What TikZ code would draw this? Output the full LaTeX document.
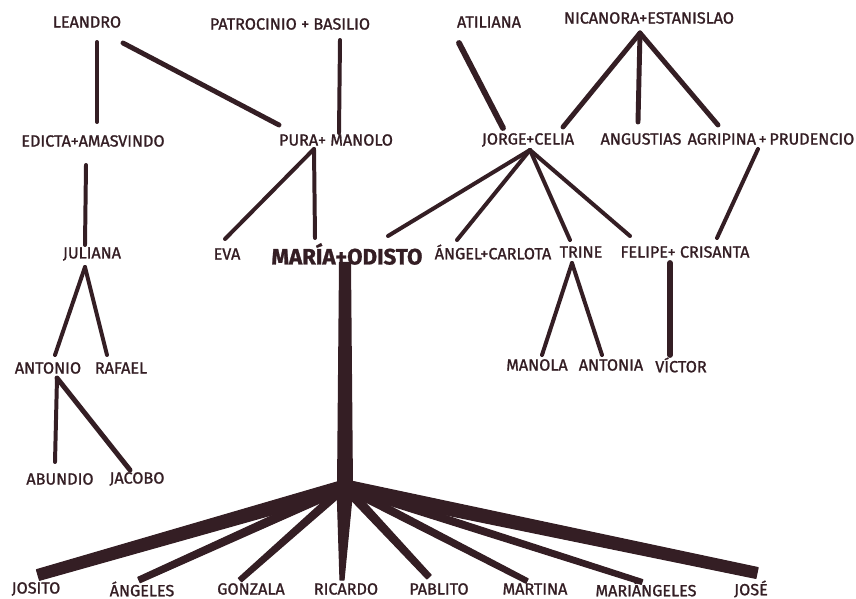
\documentclass[tikz,border=0pt]{standalone}
\usepackage{fontspec}
\setmainfont{Fira Sans}[FakeBold=1.2]
\definecolor{inkbrown}{RGB}{52, 30, 36}
\usetikzlibrary{calc}

\newcommand{\branchto}[4]{%
  \coordinate (tip) at ($(#1)+#2$);
  \filldraw[inkbrown, line width=1pt, line join=round]
    ($(hub)!#3!90:(tip)$) -- ($(tip)!#4!-90:(hub)$) --
    ($(tip)!#4!90:(hub)$) -- ($(hub)!#3!-90:(tip)$) -- cycle;
}

\begin{document}
\begin{tikzpicture}[x=0.03cm, y=-0.03cm,
  person/.style={text=inkbrown, font=\fontsize{13.8}{15}\selectfont, inner sep=0pt},
  couple/.style={person, font=\fontsize{19}{21}\selectfont\bfseries},
  link/.style={draw=inkbrown, line width=3.4pt, line cap=round},
  heavy/.style={link, line width=5pt}
]
  \useasboundingbox[fill=white] (0,0) rectangle (856,599);

  \node[person] (leandro) at (87,22) {LEANDRO};
  \node[person] (patbas) at (290,24) {PATROCINIO + BASILIO};
  \node[person] (atiliana) at (489,22) {ATILIANA};
  \node[person] (nicest) at (649,18) {NICANORA+ESTANISLAO};

  \node[person] (edicta) at (93,141) {EDICTA+AMASVINDO};
  \node[person] (puraman) at (336,140) {PURA+ MANOLO};
  \node[person] (jorcel) at (528,140) {JORGE+CELIA};
  \node[person] (angustias) at (641,139) {ANGUSTIAS};
  \node[person] (agripru) at (771,139) {AGRIPINA\,+\,PRUDENCIO};

  \node[person] (juliana) at (92,254) {JULIANA};
  \node[person] (eva) at (227,254) {EVA};
  \node[couple] (mariaod) at (347,254) {MARÍA+ODISTO};
  \node[person] (angcar) at (493,252) {ÁNGEL+CARLOTA};
  \node[person] (trine) at (581,252) {TRINE};
  \node[person] (felcri) at (685,252) {FELIPE+ CRISANTA};

  \node[person] (antonio) at (48,368) {ANTONIO};
  \node[person] (rafael) at (121,368) {RAFAEL};
  \node[person] (manola) at (537,365) {MANOLA};
  \node[person] (antonia) at (611,365) {ANTONIA};
  \node[person] (victor) at (681,365) {VÍCTOR};

  \node[person] (abundio) at (60,479) {ABUNDIO};
  \node[person] (jacobo) at (137,479) {JACOBO};

  \node[person] (josito) at (36,589) {JOSITO};
  \node[person] (angeles) at (142,589) {ÁNGELES};
  \node[person] (gonzala) at (251,589) {GONZALA};
  \node[person] (ricardo) at (346,589) {RICARDO};
  \node[person] (pablito) at (439,589) {PABLITO};
  \node[person] (martina) at (535,589) {MARTINA};
  \node[person] (marian) at (646,589) {MARIÁNGELES};
  \node[person] (jose) at (751,589) {JOSÉ};

  \coordinate (nicapex) at ($(nicest)+(-9,15)$);
  \coordinate (purapex) at ($(puraman)+(-22,9)$);
  \coordinate (jorapex) at ($(jorcel)+(2,10)$);
  \coordinate (julapex) at ($(juliana)+(-7,13)$);
  \coordinate (antapex) at ($(antonio)+(9,10)$);
  \coordinate (triapex) at ($(trine)+(-9,11)$);
  \coordinate (hub) at ($(mariaod)+(-2,233)$);

  \draw[link] ($(leandro)+(10,20)$) -- ($(edicta)+(4,-19)$);
  \draw[heavy, line width=4.2pt] ($(leandro)+(36,21)$) -- ($(puraman)+(-57,-15)$);
  \draw[link] ($(patbas)+(50,16)$) -- ($(puraman)+(3,-7)$);
  \draw[heavy] ($(atiliana)+(-30,21)$) -- ($(jorcel)+(-25,-12)$);
  \draw[heavy, line width=4.2pt] (nicapex) -- ($(jorcel)+(35,-13)$);
  \draw[heavy, line width=4.2pt] (nicapex) -- ($(angustias)+(-3,-17)$);
  \draw[heavy, line width=4.2pt] (nicapex) -- ($(agripru)+(-53,-14)$);
  \draw[link] ($(agripru)+(-13,10)$) -- ($(felcri)+(32,-14)$);

  \draw[link] ($(edicta)+(-7,24)$) -- ($(juliana)+(-7,-9)$);
  \draw[link] (purapex) -- ($(eva)+(-2,-15)$);
  \draw[link] (purapex) -- ($(mariaod)+(-32,-16)$);
  \draw[link] (jorapex) -- ($(mariaod)+(41,-18)$);
  \draw[link] (jorapex) -- ($(angcar)+(-36,-12)$);
  \draw[link] (jorapex) -- ($(trine)+(-11,-12)$);
  \draw[link] (jorapex) -- ($(felcri)+(-55,-16)$);

  \draw[link] (julapex) -- ($(antonio)+(7,-13)$);
  \draw[link] (julapex) -- ($(rafael)+(-14,-13)$);
  \draw[link] (antapex) -- ($(abundio)+(-5,-17)$);
  \draw[heavy, line width=4.2pt] (antapex) -- ($(jacobo)+(-7,-9)$);
  \draw[link] (triapex) -- ($(manola)+(5,-10)$);
  \draw[link] (triapex) -- ($(antonia)+(-9,-10)$);
  \draw[heavy] ($(felcri)+(-15,11)$) -- ($(victor)+(-11,-10)$);

  \fill[inkbrown] ($(mariaod)+(-8,8)$) -- ($(mariaod)+(4,8)$)
    -- ($(hub)+(8,0)$) -- ($(hub)+(-8,0)$) -- cycle;
  \fill[inkbrown] (hub) circle[radius=9];
  \branchto{josito}{(2,-14)}{6pt}{4.7pt}
  \branchto{angeles}{(-3,-9)}{3.8pt}{2.5pt}
  \branchto{gonzala}{(-11,-9)}{3.4pt}{2.1pt}
  \branchto{ricardo}{(-4,-9)}{6.8pt}{1.7pt}
  \branchto{pablito}{(-10,-12)}{3.8pt}{2.5pt}
  \branchto{martina}{(-8,-8)}{3.4pt}{2.1pt}
  \branchto{marian}{(-4,-7)}{3.4pt}{2.1pt}
  \branchto{jose}{(6,-16)}{6pt}{4.7pt}
\end{tikzpicture}
\end{document}
